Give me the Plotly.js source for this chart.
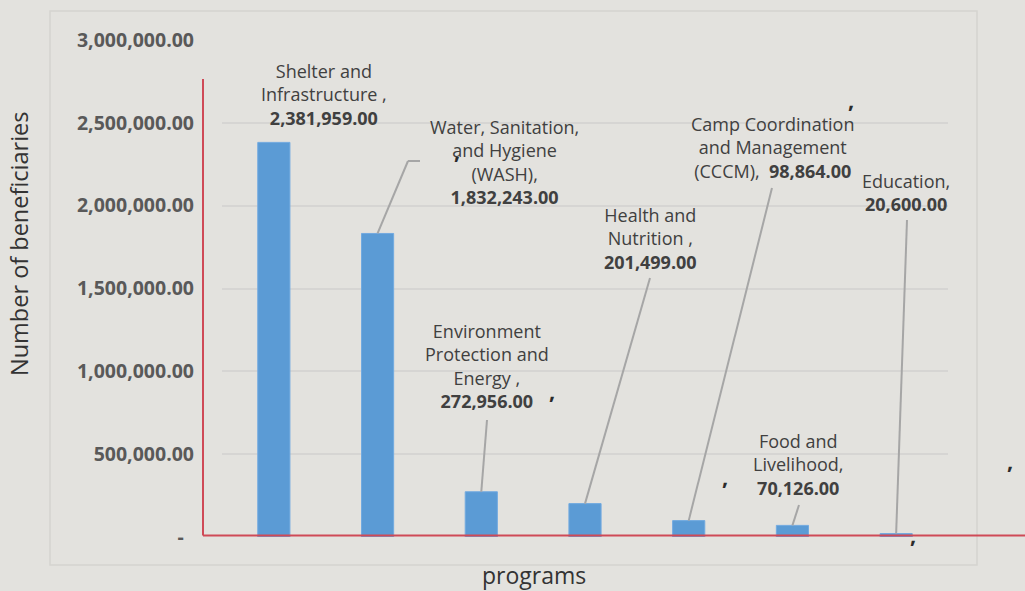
<!DOCTYPE html>
<html>
<head>
<meta charset="utf-8">
<script src="https://cdn.plot.ly/plotly-3.0.1.min.js"></script>
<style>
  html, body { margin: 0; padding: 0; background: #e3e2de; }
  #chart { width: 1025px; height: 591px; }
</style>
</head>
<body>
<div id="chart"></div>
<script>
// ---- data ----
const categories = [
  "Shelter and Infrastructure",
  "Water, Sanitation, and Hygiene (WASH)",
  "Environment Protection and Energy",
  "Health and Nutrition",
  "Camp Coordination and Management (CCCM)",
  "Food and Livelihood",
  "Education"
];
const beneficiaries = [2381959, 1832243, 272956, 201499, 98864, 70126, 20600];
const labelNames = [
  "Shelter and<br>Infrastructure ,<br>",
  "Water, Sanitation,<br>and Hygiene<br>(WASH),<br>",
  "Environment<br>Protection and<br>Energy ,<br>",
  "Health and<br>Nutrition ,<br>",
  "Camp Coordination<br>and Management<br>(CCCM),  ",
  "Food and<br>Livelihood,<br>",
  "Education,<br>"
];
const yTickValues = [0, 500000, 1000000, 1500000, 2000000, 2500000, 3000000];
const yAxisTitle = "Number of beneficiaries";
const xAxisTitle = "programs";

// ---- layout helpers (pixel -> axis coordinates) ----
const W = 1025, H = 591;
const M = {l: 222, r: 77, t: 40, b: 54};
const plotW = W - M.l - M.r, plotH = H - M.t - M.b;
const YMAX = 3000000;
const catW = plotW / categories.length;
const px2x = px => (px - M.l) / catW - 0.5;
const py2y = py => (H - M.b - py) / plotH * YMAX;
const px2p = px => (px - M.l) / plotW;
const py2p = py => (H - M.b - py) / plotH;

const fmt = v => v.toLocaleString('en-US', {minimumFractionDigits: 2, maximumFractionDigits: 2});
const yTickText = yTickValues.map(v => v === 0 ? "-\u00a0\u00a0" : fmt(v));

// label placement (pixel centres) and leader ends
const labelPos = [[324, 94], [504, 162], [487, 366], [650, 238], [772, 147], [798, 464], [906, 192]];
const leaderEnds = [null, [[408, 161], [420, 161]], [[487, 420]], [[650, 278]], [[772, 188]], [[799, 505]], [[907, 220]]];
const strayCommas = [[457, 157], [552, 397], [851, 106], [725, 483], [1010, 467], [913, 541]];

const textColor = "#404040";
const annotations = [];
categories.forEach((c, i) => {
  annotations.push({
    xref: 'x', yref: 'y',
    x: px2x(labelPos[i][0]), y: py2y(labelPos[i][1]),
    text: labelNames[i] + "<b>" + fmt(beneficiaries[i]) + "</b>",
    showarrow: false, align: 'center',
    font: {family: "Open Sans", size: 18, color: textColor},
    xanchor: 'center', yanchor: 'middle'
  });
});
strayCommas.forEach(p => {
  annotations.push({
    xref: 'paper', yref: 'paper',
    x: px2p(p[0]), y: py2p(p[1] - 7),
    text: "<b>,</b>", showarrow: false,
    font: {family: "Open Sans", size: 22, color: "#2b2b2b"},
    xanchor: 'center', yanchor: 'middle'
  });
});
// axis titles
annotations.push({
  xref: 'paper', yref: 'paper', x: px2p(19), y: py2p(244),
  text: yAxisTitle, textangle: -90, showarrow: false,
  font: {family: "Open Sans", size: 23.5, color: "#333333"},
  xanchor: 'center', yanchor: 'middle'
});
annotations.push({
  xref: 'paper', yref: 'paper', x: px2p(534), y: py2p(575),
  text: xAxisTitle, showarrow: false,
  font: {family: "Open Sans", size: 23, color: "#333333"},
  xanchor: 'center', yanchor: 'middle'
});

const shapes = [];
// outer chart frame
shapes.push({type: 'rect', xref: 'paper', yref: 'paper', layer: 'below',
  x0: px2p(50), x1: px2p(977), y0: py2p(11), y1: py2p(565),
  line: {color: '#d5d4d0', width: 1.5}, fillcolor: 'rgba(0,0,0,0)'});
// leader lines, starting at bar tops
categories.forEach((c, i) => {
  const ends = leaderEnds[i];
  if (!ends) return;
  let x0 = i, y0 = beneficiaries[i];
  ends.forEach(e => {
    const x1 = px2x(e[0]), y1 = py2y(e[1]);
    shapes.push({type: 'line', xref: 'x', yref: 'y', x0: x0, y0: y0, x1: x1, y1: y1,
      line: {color: '#a6a6a6', width: 2}});
    x0 = x1; y0 = y1;
  });
});
// red axis lines
shapes.push({type: 'line', xref: 'paper', yref: 'paper',
  x0: px2p(203), x1: px2p(203), y0: py2p(79), y1: py2p(535.5),
  line: {color: '#cf4a57', width: 2}});
shapes.push({type: 'line', xref: 'paper', yref: 'paper',
  x0: px2p(203), x1: px2p(1025), y0: py2p(535.5), y1: py2p(535.5),
  line: {color: '#cf4a57', width: 2}});

const trace = {
  type: 'bar', x: categories, y: beneficiaries,
  marker: {color: '#5b9bd5', line: {color: '#72aae0', width: 1}},
  width: 0.31, hoverinfo: 'skip', showlegend: false
};

const layout = {
  width: W, height: H,
  margin: M,
  paper_bgcolor: '#e3e2de', plot_bgcolor: '#e3e2de',
  font: {family: "Open Sans", color: textColor},
  xaxis: {type: 'category', range: [-0.5, categories.length - 0.5],
    showticklabels: false, showgrid: false, zeroline: false, showline: false, ticks: ''},
  yaxis: {range: [0, YMAX], tickvals: yTickValues, ticktext: yTickText,
    tickfont: {family: "Open Sans", size: 19.5, color: '#595959', weight: 'bold'},
    showgrid: true, gridcolor: '#d6d5d3', gridwidth: 2, zeroline: false,
    showline: false, ticks: '', ticklabelstandoff: 27},
  annotations: annotations,
  shapes: shapes,
  showlegend: false
};

Plotly.newPlot('chart', [trace], layout, {displayModeBar: false, staticPlot: true});
</script>
</body>
</html>
